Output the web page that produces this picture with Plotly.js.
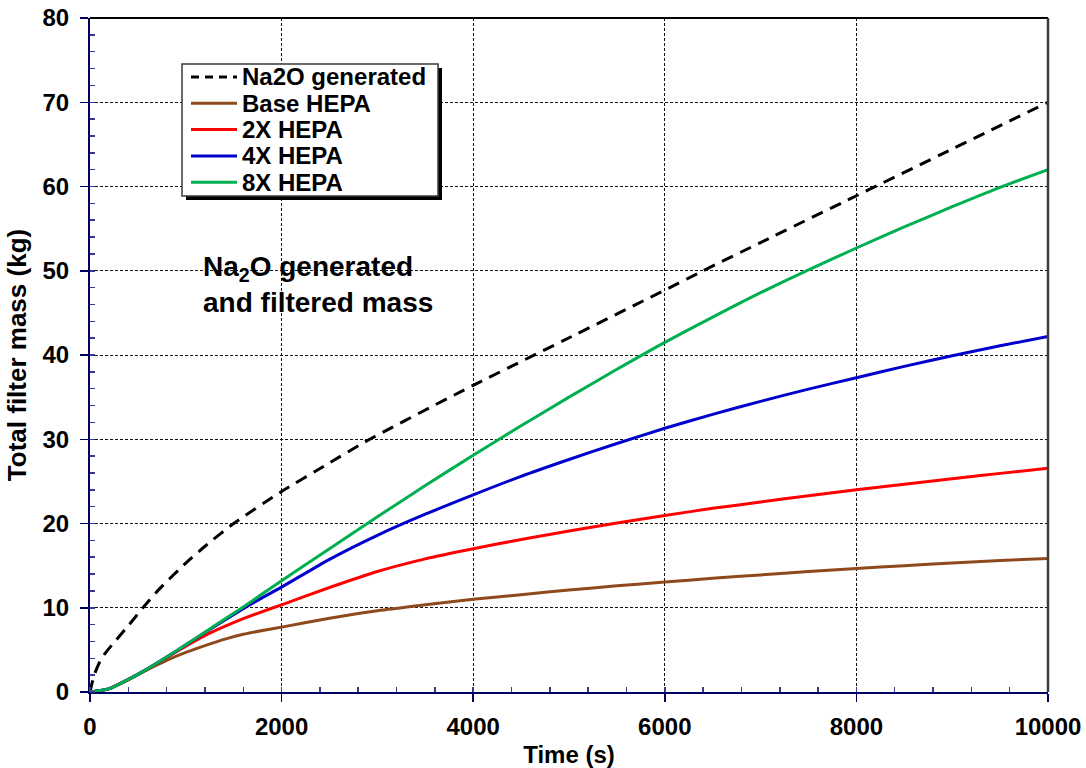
<!DOCTYPE html>
<html>
<head>
<meta charset="utf-8">
<script src="https://cdn.plot.ly/plotly-3.0.1.min.js"></script>
<style>html,body{margin:0;padding:0;background:#fff;}#chart{width:1086px;height:768px;}</style>
</head>
<body>
<div id="chart"></div>
<script>
// Generated Na2O (kg) versus time (s)
const timeGen = [0, 20, 50, 120, 230, 380, 590, 730, 1000, 1200, 1500, 2000, 2500, 2920, 4000, 4940, 6000, 6400, 7000, 8000, 9000, 10000];
const na2oGen = [0, 1.0, 2.2, 4.0, 5.6, 7.6, 10.5, 12.3, 15.3, 17.3, 20.0, 23.8, 27.2, 30.0, 36.4, 41.7, 47.7, 50.0, 53.35, 58.9, 64.45, 70.0];

// Mass collected on the filters (kg), common time grid (s)
const timeFilter = [0, 200, 400, 600, 800, 1000, 1200, 1400, 1600, 1800, 2000,
                    2500, 3000, 3500, 4000, 4500, 5000, 5500, 6000, 6500, 7000, 7500, 8000, 8500, 9000, 9500, 10000];
const baseHepa = [0, 0.4, 1.45, 2.65, 3.75, 4.7, 5.5, 6.25, 6.85, 7.3, 7.7,
                  8.75, 9.65, 10.35, 11.0, 11.55, 12.1, 12.6, 13.05, 13.5, 13.9, 14.3, 14.65, 15.0, 15.3, 15.6, 15.85];
const hepa2x   = [0, 0.4, 1.5, 2.75, 4.1, 5.45, 6.7, 7.75, 8.7, 9.55, 10.35,
                  12.4, 14.3, 15.8, 17.0, 18.1, 19.1, 20.05, 20.95, 21.8, 22.55, 23.3, 24.0, 24.65, 25.3, 25.95, 26.55];
const hepa4x   = [0, 0.4, 1.5, 2.75, 4.15, 5.6, 7.05, 8.5, 9.9, 11.2, 12.45,
                  15.75, 18.6, 21.1, 23.4, 25.6, 27.6, 29.5, 31.3, 32.95, 34.5, 35.95, 37.3, 38.65, 39.9, 41.1, 42.2];
const hepa8x   = [0, 0.4, 1.5, 2.75, 4.15, 5.6, 7.1, 8.6, 10.1, 11.65, 13.2,
                  17.0, 20.8, 24.5, 28.1, 31.6, 35.0, 38.3, 41.5, 44.5, 47.4, 50.1, 52.7, 55.2, 57.6, 59.9, 62.0];

// Legend entries
const seriesNames = ['Na2O generated', 'Base HEPA', '2X HEPA', '4X HEPA', '8X HEPA'];
const seriesColors = ['#000000', '#8E4A1C', '#FF0000', '#0000CC', '#00B050'];

const FONT = 'Liberation Sans, Arial, sans-serif';
const NAVY = '#000060';

const lineStyle = (i) => ({color: seriesColors[i], width: 3, shape: 'spline', smoothing: 0.6});

const traces = [
  {x: timeGen,    y: na2oGen,  line: Object.assign(lineStyle(0), {dash: '12px,8px'})},
  {x: timeFilter, y: baseHepa, line: lineStyle(1)},
  {x: timeFilter, y: hepa2x,   line: lineStyle(2)},
  {x: timeFilter, y: hepa4x,   line: lineStyle(3)},
  {x: timeFilter, y: hepa8x,   line: lineStyle(4)}
].map((t, i) => Object.assign({type: 'scatter', mode: 'lines', name: seriesNames[i], hoverinfo: 'skip', showlegend: false}, t));

// Figure geometry (pixels)
const W = 1086, H = 768;
const M = {l: 90, r: 38, t: 18, b: 76};
const plotW = W - M.l - M.r, plotH = H - M.t - M.b;
const px = (x) => (x - M.l) / plotW;          // page x -> paper x
const py = (y) => (H - M.b - y) / plotH;      // page y -> paper y

// Boxed legend with a drop shadow, drawn from the series names/colours
const legBox = {x0: 182, x1: 438, y0: 64, y1: 196};
const legRow0 = 77, legRowStep = 26.3;
const shapes = [
  {type: 'rect', xref: 'paper', yref: 'paper', layer: 'above',
   x0: px(legBox.x0 + 4), x1: px(legBox.x1 + 4), y0: py(legBox.y1 + 4), y1: py(legBox.y0 + 4),
   fillcolor: '#000', line: {width: 0}},
  {type: 'rect', xref: 'paper', yref: 'paper', layer: 'above',
   x0: px(legBox.x0), x1: px(legBox.x1), y0: py(legBox.y1), y1: py(legBox.y0),
   fillcolor: '#fff', line: {color: '#3a3a3a', width: 1.5}},
  // top and right frame of the plot area
  {type: 'line', xref: 'paper', yref: 'paper', x0: 0, x1: 1, y0: 1, y1: 1, line: {color: '#000', width: 2}},
  {type: 'line', xref: 'paper', yref: 'paper', x0: 1, x1: 1, y0: 0, y1: 1, line: {color: '#3c3c3c', width: 2.5}}
];
const annotations = [];
seriesNames.forEach((name, i) => {
  const yRow = legRow0 + i * legRowStep;
  shapes.push({type: 'line', xref: 'paper', yref: 'paper', layer: 'above',
    x0: px(191), x1: px(237), y0: py(yRow), y1: py(yRow),
    line: {color: seriesColors[i], width: 3, dash: i === 0 ? '8px,6px' : 'solid'}});
  annotations.push({xref: 'paper', yref: 'paper', x: px(240), y: py(yRow),
    xanchor: 'left', yanchor: 'middle', showarrow: false, text: name,
    font: {family: FONT, size: 24, color: '#000', weight: 'bold'}});
});

// Caption inside the plot
annotations.push({
  xref: 'paper', yref: 'paper', x: px(201), y: py(284), xanchor: 'left', yanchor: 'middle',
  align: 'left', showarrow: false,
  text: 'Na<sub>2</sub>O generated<br>and filtered mass',
  font: {family: FONT, size: 28, color: '#000', weight: 'bold'}
});

const axisCommon = {
  showline: true, linecolor: NAVY, linewidth: 2,
  showgrid: true, gridcolor: '#111', gridwidth: 1, griddash: '3px,2px',
  zeroline: false,
  ticks: 'outside', ticklen: 8, tickwidth: 1.5, tickcolor: NAVY,
  tickformat: 'd',
  tickfont: {family: FONT, size: 24, color: '#000', weight: 'bold'},
  fixedrange: true
};

const layout = {
  width: W, height: H, autosize: false,
  margin: M,
  paper_bgcolor: '#fff', plot_bgcolor: '#fff',
  font: {family: FONT, color: '#000'},
  showlegend: false,
  xaxis: Object.assign({}, axisCommon, {
    range: [0, 10000], tick0: 0, dtick: 2000, ticklabelstandoff: 4,
    minor: {dtick: 400, ticks: 'inside', ticklen: 5, tickwidth: 1.5, tickcolor: '#3a3a8c', showgrid: false},
    title: {text: 'Time (s)', font: {family: FONT, size: 24, color: '#000', weight: 'bold'}, standoff: 10}
  }),
  yaxis: Object.assign({}, axisCommon, {
    range: [0, 80], tick0: 0, dtick: 10, ticklabelstandoff: 6,
    minor: {dtick: 2, ticks: 'inside', ticklen: 5, tickwidth: 1.5, tickcolor: '#3a3a8c', showgrid: false},
    title: {text: 'Total filter mass (kg)', font: {family: FONT, size: 26, color: '#000', weight: 'bold'}, standoff: 8}
  }),
  shapes: shapes,
  annotations: annotations
};

Plotly.newPlot('chart', traces, layout, {displayModeBar: false, staticPlot: true});
</script>
</body>
</html>
